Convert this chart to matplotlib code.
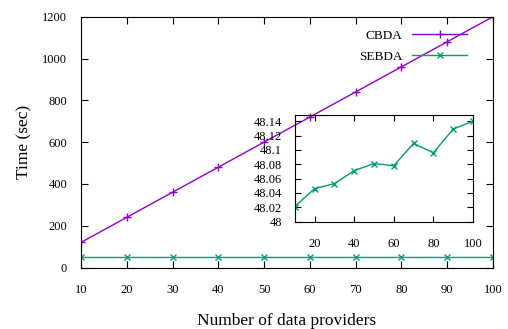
import matplotlib
matplotlib.use("Agg")
import matplotlib.pyplot as plt

providers = [10, 20, 30, 40, 50, 60, 70, 80, 90, 100]
cbda = [120, 240, 360, 480, 600, 720, 840, 960, 1080, 1200]
sebda = [48.021, 48.046, 48.053, 48.071, 48.081, 48.078, 48.109, 48.096, 48.129, 48.140]
main_yticks = [0, 200, 400, 600, 800, 1000, 1200]
inset_yticks = [48, 48.02, 48.04, 48.06, 48.08, 48.1, 48.12, 48.14]
inset_yticklabels = ["48", "48.02", "48.04", "48.06", "48.08", "48.1", "48.12", "48.14"]
inset_xticks = [20, 40, 60, 80, 100]

plt.rcParams['font.family'] = ['Liberation Serif', 'DejaVu Serif']
plt.rcParams['font.size'] = 9

purple = '#9400d3'
green = '#009e73'

fig = plt.figure(figsize=(5.08, 3.29), dpi=100)
ax = fig.add_axes([0.1594, 0.1869, 0.811, 0.7623])
ax.plot(providers, cbda, color=purple, marker='+', ms=6, mew=1, lw=1, label='CBDA')
ax.plot(providers, sebda, color=green, marker='x', ms=5, mew=1, lw=1, label='SEBDA')
ax.set_xlim(10, 100)
ax.set_ylim(0, 1200)
ax.set_xticks(providers)
ax.set_yticks(main_yticks)
ax.tick_params(direction='in', top=True, right=True, length=5, width=0.8)
ax.tick_params(axis='x', pad=12)
ax.tick_params(axis='y', pad=10)
ax.set_xlabel('Number of data providers', fontsize=12.5, labelpad=12)
ax.set_ylabel('Time (sec)', fontsize=12.5, labelpad=7)
for s in ax.spines.values():
    s.set_linewidth(0.8)
leg = ax.legend(loc='upper right', bbox_to_anchor=(0.967, 0.995), frameon=False, markerfirst=False,
                handlelength=4.2, handletextpad=0.7, labelspacing=0.65, fontsize=9.5, numpoints=1)

ins = fig.add_axes([0.5801, 0.3261, 0.351, 0.3252])
ins.patch.set_facecolor('none')
ins.plot(providers, sebda, color=green, marker='x', ms=5, mew=1, lw=1)
ins.set_xlim(10, 100)
ins.set_ylim(48, 48.149)
ins.set_xticks(inset_xticks)
ins.set_yticks(inset_yticks)
ins.set_yticklabels(inset_yticklabels)
ins.tick_params(direction='in', top=True, right=True, length=4, width=0.8)
ins.tick_params(axis='x', pad=12)
ins.tick_params(axis='y', pad=9)
for s in ins.spines.values():
    s.set_linewidth(0.8)

fig.savefig('out.png', dpi=100)
